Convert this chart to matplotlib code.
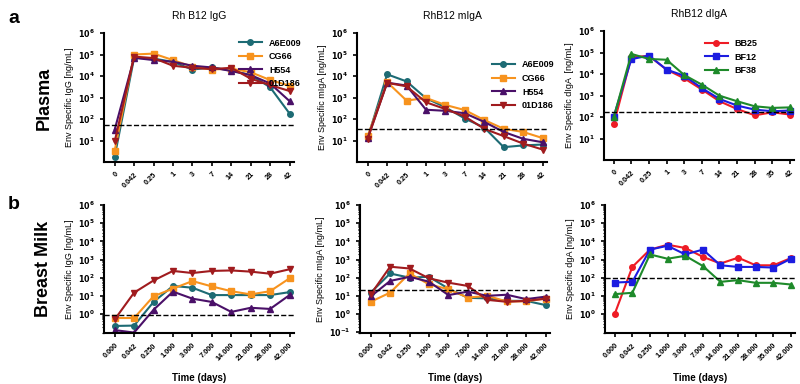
import matplotlib
matplotlib.use("Agg")
import matplotlib.pyplot as plt
import matplotlib.ticker as mticker
import numpy as np

plt.rcParams['font.family'] = ['Liberation Sans', 'DejaVu Sans']
plt.rcParams['font.weight'] = 'bold'
plt.rcParams['mathtext.default'] = 'bf'

# time points (category labels)
days_plasma = ['0', '0.042', '0.25', '1', '3', '7', '14', '21', '28', '42']
days_plasma_d = ['0', '0.042', '0.25', '1', '3', '7', '14', '21', '28', '35', '42']
days_milk = ['0.000', '0.042', '0.250', '1.000', '3.000', '7.000', '14.000', '21.000', '28.000', '42.000']
days_milk_d = ['0.000', '0.042', '0.250', '1.000', '3.000', '7.000', '14.000', '21.000', '28.000', '35.000', '42.000']

# plasma IgG
p_igg_A6E009 = [1.8, 7e4, 6.5e4, 4.5e4, 2e4, 2.5e4, 1.8e4, 1.1e4, 3e3, 180]
p_igg_CG66 = [3.4, 1e5, 1.1e5, 5.5e4, 2.7e4, 2e4, 2.2e4, 1.5e4, 6.5e3, 3.5e3]
p_igg_H554 = [32, 7e4, 5.5e4, 4.6e4, 3e4, 2.5e4, 1.7e4, 1.1e4, 4.5e3, 680]
p_igg_01D186 = [9, 8e4, 6.8e4, 3e4, 2.4e4, 2.1e4, 2.4e4, 7.5e3, 3.8e3, 2e3]
p_igg_cut = 50

# plasma mIgA
p_miga_A6E009 = [13, 1.2e4, 5.6e3, 930, 350, 105, 40, 4.9, 5.9, 6.5]
p_miga_CG66 = [16, 5.2e3, 720, 950, 450, 260, 90, 35, 25, 13]
p_miga_H554 = [13, 4.9e3, 3.6e3, 270, 240, 185, 73, 25, 12, 8.3]
p_miga_01D186 = [12, 4.8e3, 3.3e3, 600, 290, 130, 35, 16, 7.2, 3.8]
p_miga_cut = 33

# plasma dIgA
p_diga_BB25 = [45, 6e4, 7e4, 1.6e4, 6.3e3, 1.9e3, 540, 235, 120, 165, 130]
p_diga_BF12 = [105, 4.9e4, 7.2e4, 1.6e4, 8.3e3, 2.2e3, 690, 340, 220, 185, 200]
p_diga_BF38 = [95, 8.6e4, 5e4, 4.6e4, 9e3, 3.2e3, 980, 540, 315, 265, 280]
p_diga_cut = 180

# breast milk IgG
m_igg_A6E009 = [0.22, 0.23, 4.6, 35, 28, 11, 11, 11, 11, 16]
m_igg_CG66 = [0.6, 0.6, 9.5, 25, 65, 33, 18, 12, 18, 92]
m_igg_H554 = [0.13, 0.095, 1.7, 17, 7, 4.6, 1.3, 2.2, 1.9, 11]
m_igg_01D186 = [0.5, 15, 70, 235, 180, 235, 250, 215, 165, 290]
m_igg_cut = 0.85

# breast milk mIgA
m_miga_A6E009 = [15, 170, 100, 112, 25, 7.8, 7.2, 5.3, 5.3, 3.1]
m_miga_CG66 = [4.7, 15, 170, 43, 23, 8, 10, 4.9, 5, 7]
m_miga_H554 = [9.2, 66, 112, 60, 11, 17, 10, 11.5, 6.6, 9]
m_miga_01D186 = [12, 400, 320, 92, 53, 35, 6, 4.7, 5.3, 7]
m_miga_cut = 22

# breast milk dIgA
m_diga_BB25 = [1.0, 390, 3.5e3, 6.5e3, 4.3e3, 1.4e3, 600, 1.26e3, 480, 480, 1.2e3]
m_diga_BF12 = [54, 59, 3.5e3, 5.7e3, 1.9e3, 3.5e3, 480, 390, 390, 360, 1.1e3]
m_diga_BF38 = [12.4, 14.7, 1.9e3, 1.1e3, 1.6e3, 440, 59, 73, 52, 52, 42]
m_diga_cut = 100

rh_names = ['A6E009', 'CG66', 'H554', '01D186']
rh_colors = ['#1d6b74', '#f7931e', '#4a1068', '#a01b1e']
rh_markers = ['o', 's', '^', 'v']
d_names = ['BB25', 'BF12', 'BF38']
d_colors = ['#ee1c25', '#1c1ce0', '#1e8a2a']
d_markers = ['o', 's', '^']


def log_label(v, pos):
    e = int(round(np.log10(v)))
    return r'$10^{%d}$' % e


def style_axis(ax, labels, ylo, yticks, ylabel, minor):
    n = len(labels)
    ax.set_yscale('log')
    ax.set_ylim(ylo, 1e6)
    ax.set_xlim(-0.55, n - 0.75)
    ax.set_xticks(range(n))
    ax.set_xticklabels(labels, rotation=45, ha='right', rotation_mode='anchor', fontsize=5.3)
    ax.set_yticks(yticks)
    ax.yaxis.set_major_formatter(mticker.FuncFormatter(log_label))
    if minor:
        ax.yaxis.set_minor_locator(mticker.LogLocator(base=10, subs=np.arange(2, 10), numticks=20))
    else:
        ax.yaxis.set_minor_locator(mticker.NullLocator())
    ax.yaxis.set_minor_formatter(mticker.NullFormatter())
    ax.tick_params(axis='y', labelsize=5.8, width=1.2, length=3)
    ax.tick_params(axis='y', which='minor', width=0.8, length=1.5)
    ax.tick_params(axis='x', width=1.2, length=3)
    for s in ['top', 'right']:
        ax.spines[s].set_visible(False)
    for s in ['left', 'bottom']:
        ax.spines[s].set_linewidth(1.5)
    ax.set_ylabel(ylabel, fontsize=6.5, labelpad=3)


def draw(ax, series, names, colors, markers, cut):
    x = np.arange(len(series[0]))
    for vals, nm, c, m in zip(series, names, colors, markers):
        ax.plot(x, vals, color=c, marker=m, markersize=4, lw=1.5, label=nm)
    ax.axhline(cut, color='black', ls='--', lw=1)


fig = plt.figure(figsize=(8, 3.84), dpi=100)

h = 129 / 384
w = 0.238
a1 = fig.add_axes([104 / 800, 1 - 162 / 384, w, h])
a2 = fig.add_axes([357 / 800, 1 - 162 / 384, w, h])
a3 = fig.add_axes([604 / 800, 1 - 160 / 384, w, h])
b1 = fig.add_axes([104 / 800, 1 - 333 / 384, w, 128 / 384])
b2 = fig.add_axes([360 / 800, 1 - 333 / 384, w, 128 / 384])
b3 = fig.add_axes([605 / 800, 1 - 333 / 384, w, 128 / 384])

draw(a1, [p_igg_A6E009, p_igg_CG66, p_igg_H554, p_igg_01D186], rh_names, rh_colors, rh_markers, p_igg_cut)
draw(a2, [p_miga_A6E009, p_miga_CG66, p_miga_H554, p_miga_01D186], rh_names, rh_colors, rh_markers, p_miga_cut)
draw(a3, [p_diga_BB25, p_diga_BF12, p_diga_BF38], d_names, d_colors, d_markers, p_diga_cut)
draw(b1, [m_igg_A6E009, m_igg_CG66, m_igg_H554, m_igg_01D186], rh_names, rh_colors, rh_markers, m_igg_cut)
draw(b2, [m_miga_A6E009, m_miga_CG66, m_miga_H554, m_miga_01D186], rh_names, rh_colors, rh_markers, m_miga_cut)
draw(b3, [m_diga_BB25, m_diga_BF12, m_diga_BF38], d_names, d_colors, d_markers, m_diga_cut)

dec_a = [1e1, 1e2, 1e3, 1e4, 1e5, 1e6]
style_axis(a1, days_plasma, 1, dec_a, 'Env Specific IgG [ng/mL]', False)
style_axis(a2, days_plasma, 1, dec_a, 'Env Specific mIgA [ng/mL]', False)
style_axis(a3, days_plasma_d, 1, dec_a, 'Env Specific dIgA  [ng/mL]', False)
style_axis(b1, days_milk, 0.09, [1e0, 1e1, 1e2, 1e3, 1e4, 1e5, 1e6], 'Env Specific IgG [ng/mL]', True)
style_axis(b2, days_milk, 0.09, [1e-1, 1e0, 1e1, 1e2, 1e3, 1e4, 1e5, 1e6], 'Env Specific mIgA [ng/mL]', True)
style_axis(b3, days_milk_d, 0.09, [1e0, 1e1, 1e2, 1e3, 1e4, 1e5, 1e6], 'Env Specific dgA [ng/mL]', True)

a1.set_title('Rh B12 IgG', fontsize=7.5, pad=10)
a2.set_title('RhB12 mIgA', fontsize=7.5, pad=10)
a3.set_title('RhB12 dIgA', fontsize=7.5, pad=10)

a1.legend(loc='upper right', bbox_to_anchor=(1.08, 1.02), frameon=False, fontsize=6.5,
          handlelength=2.5, labelspacing=0.5)
a2.legend(loc='upper right', bbox_to_anchor=(1.08, 0.85), frameon=False, fontsize=6.5,
          handlelength=2.5, labelspacing=0.5)
a3.legend(loc='upper right', bbox_to_anchor=(0.85, 1.0), frameon=False, fontsize=6.5,
          handlelength=2.5, labelspacing=0.5)

for ax in [b1, b2, b3]:
    pos = ax.get_position()
    fig.text((pos.x0 + pos.x1) / 2, 1 - 378 / 384, 'Time (days)', fontsize=7,
             fontweight='bold', ha='center', va='center')

fig.text(0.01, 0.975, 'a', fontsize=14, fontweight='bold', va='top')
fig.text(0.01, 0.49, 'b', fontsize=14, fontweight='bold', va='top')
fig.text(0.055, 0.745, 'Plasma', fontsize=13, fontweight='bold', rotation=90, ha='center', va='center')
fig.text(0.055, 0.3, 'Breast Milk', fontsize=13, fontweight='bold', rotation=90, ha='center', va='center')

fig.savefig('out.png', dpi=100)
